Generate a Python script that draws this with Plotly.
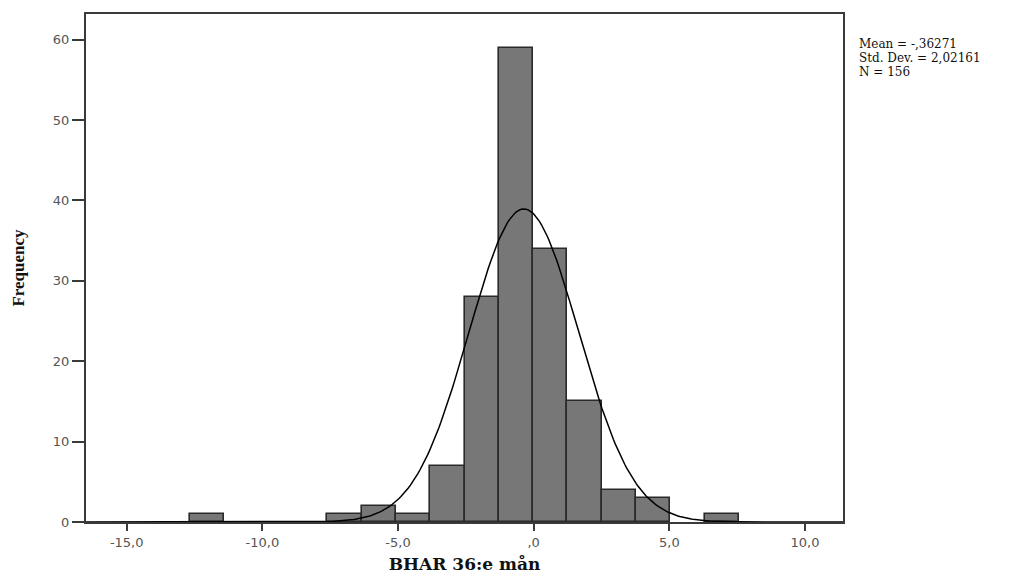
import numpy as np
import plotly.graph_objects as go

# Histogram bins (left edges) and counts
bin_width = 1.265
bin_lefts = [-12.67, -7.61, -6.345, -5.08, -3.815, -2.55, -1.285, -0.02, 1.245, 2.51, 3.775, 6.305]
counts = [1, 1, 2, 1, 7, 28, 59, 34, 15, 4, 3, 1]

mean_val = -0.36271
std_val = 2.02161
n_val = 156

x_tickvals = [-15, -10, -5, 0, 5, 10]
x_ticktext = ["-15,0", "-10,0", "-5,0", ",0", "5,0", "10,0"]
y_tickvals = [0, 10, 20, 30, 40, 50, 60]
stats_lines = ["Mean = -,36271", "Std. Dev. = 2,02161", "N = 156"]

centers = [l + bin_width / 2 for l in bin_lefts]

fig = go.Figure()
fig.add_trace(go.Bar(
    x=centers, y=counts, width=bin_width,
    marker=dict(color="#777777", line=dict(color="#2a2a2a", width=1.6)),
    hoverinfo="skip", showlegend=False,
))

xs = np.linspace(-16.5, 11.4, 400)
ys = n_val * bin_width / (std_val * np.sqrt(2 * np.pi)) * np.exp(-0.5 * ((xs - mean_val) / std_val) ** 2)
fig.add_trace(go.Scatter(x=xs, y=ys, mode="lines", line=dict(color="black", width=1.5),
                         hoverinfo="skip", showlegend=False))

fig.update_layout(
    width=1029, height=574,
    margin=dict(l=86, r=186, t=14, b=52),
    plot_bgcolor="white", paper_bgcolor="white",
    bargap=0,
    xaxis=dict(
        range=[-16.5, 11.4], tickvals=x_tickvals, ticktext=x_ticktext,
        showgrid=False, zeroline=False, showline=True, linecolor="#3a3a3a", linewidth=2,
        mirror=True, ticks="outside", ticklen=7, tickcolor="#3a3a3a", tickwidth=1.5,
        tickfont=dict(family="DejaVu Sans", size=13, color="#555555"),
        automargin=False,
        title=dict(text="<b>BHAR 36:e mån</b>", font=dict(family="DejaVu Serif", size=17, color="#111111"), standoff=14),
    ),
    yaxis=dict(
        range=[0, 63.2], tickvals=y_tickvals,
        showgrid=False, zeroline=False, showline=True, linecolor="#3a3a3a", linewidth=2,
        mirror=True, ticks="outside", ticklen=12, tickcolor="#3a3a3a", tickwidth=1.5,
        tickfont=dict(family="DejaVu Sans", size=13, color="#555555"),
        automargin=False,
        title=dict(text="<b>Frequency</b>", font=dict(family="Liberation Serif", size=17, color="#111111"), standoff=24),
    ),
)

plot_top, plot_bottom = 14, 522
for i, line in enumerate(stats_lines):
    py = 44 + 14 * i
    fig.add_annotation(
        xref="paper", yref="paper", x=1.018, y=(plot_bottom - py) / (plot_bottom - plot_top),
        xanchor="left", yanchor="middle", text=line, showarrow=False, align="left",
        font=dict(family="DejaVu Serif", size=12, color="#111111"),
    )

fig.write_html("out.html")
